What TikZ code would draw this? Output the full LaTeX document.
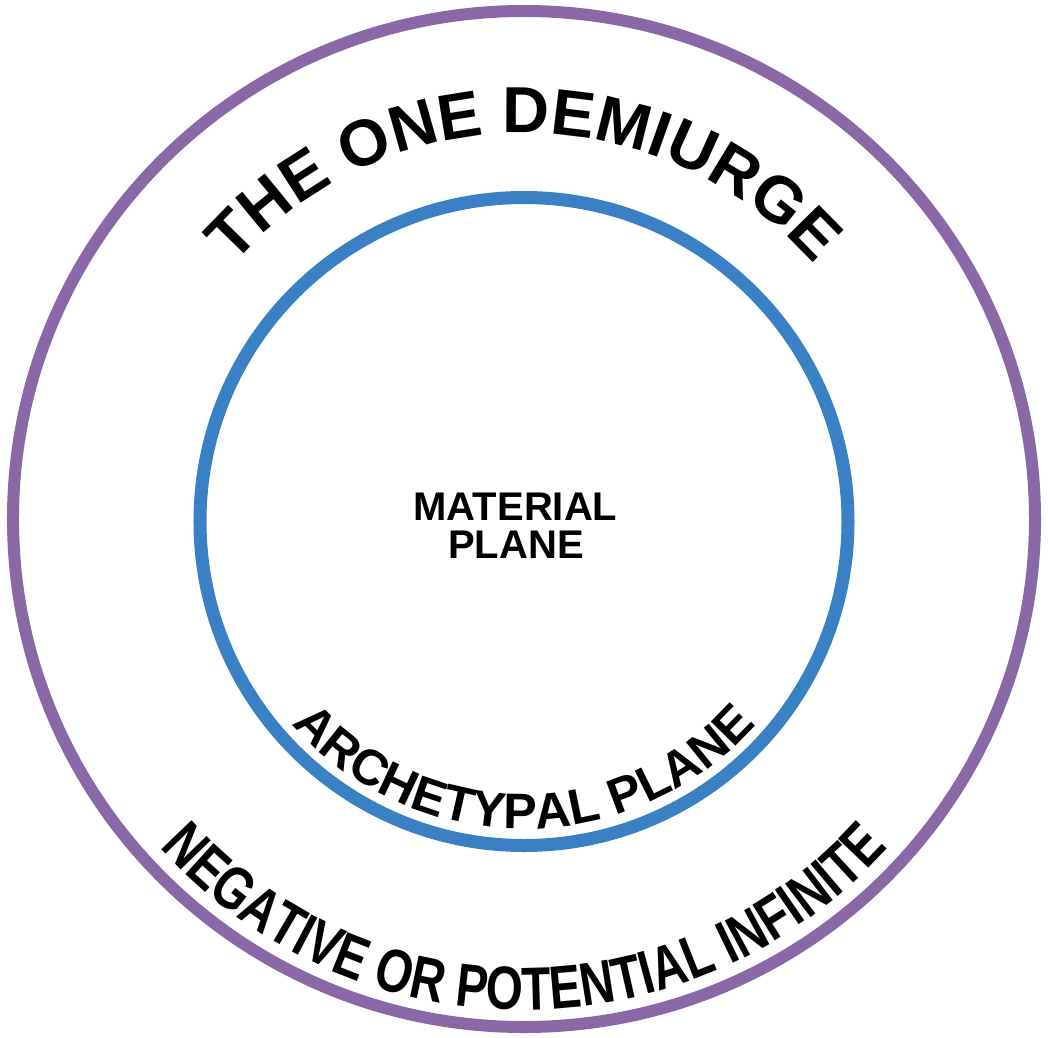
\documentclass[tikz,border=0pt]{standalone}
\usepackage{fontspec}
\usetikzlibrary{decorations.text}
\newfontfamily\lsb{Liberation Sans}
\newfontfamily\lsbc{Liberation Sans}[FakeStretch=0.78]
\definecolor{ringpurple}{HTML}{8A68A8}
\definecolor{ringblue}{HTML}{3A80C4}
\tikzset{
  purplering/.style={draw=ringpurple, line width=12pt},
  bluering/.style={draw=ringblue, line width=13pt},
  centrelabel/.style={font=\lsb\bfseries\fontsize{40}{40}\selectfont, inner sep=0pt, anchor=base},
  arctext/.style={decorate, decoration={text along path, text={#1}, text align=center}}
}
\begin{document}
\begin{tikzpicture}[x=1pt,y=1pt]
\useasboundingbox (-524,-517) rectangle (524,520);
\draw[purplering] (0,1) ellipse [x radius=511, y radius=508];
\draw[bluering] (0,-1.5) circle [radius=324];
\path[arctext={|\lsb\bfseries\fontsize{65}{65}\selectfont|THE ONE DEMIURGE}]
  (138:387) arc [start angle=138, end angle=42, radius=387];
\path[arctext={|\lsb\bfseries\fontsize{50}{50}\selectfont|ARCHETYPAL PLANE}]
  (221.5:309) arc [start angle=221.5, end angle=318.5, radius=309];
\path[arctext={|\lsbc\bfseries\fontsize{61}{61}\selectfont|NEGATIVE OR POTENTIAL INFINITE}]
  (221:490) arc [start angle=221, end angle=319, radius=490];
\node[centrelabel] (mat) at (-8.5,0) {MATERIAL};
\node[centrelabel] (pla) at (-8,-38) {PLANE};
\end{tikzpicture}
\end{document}
